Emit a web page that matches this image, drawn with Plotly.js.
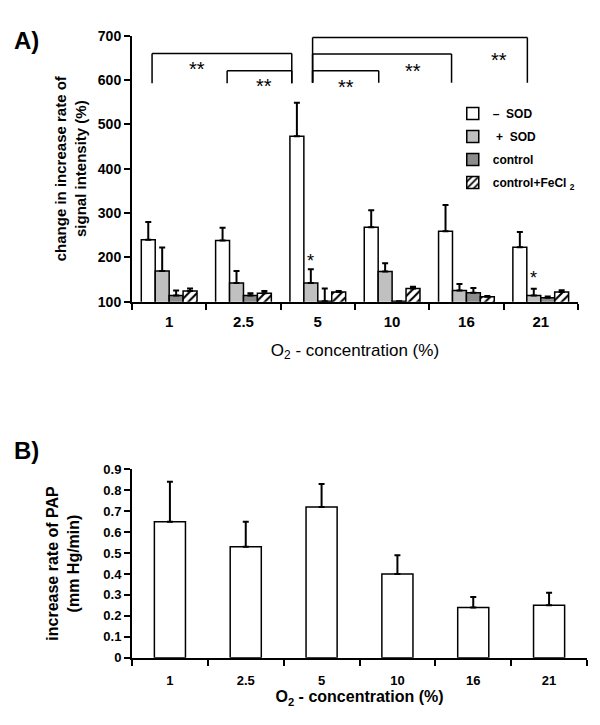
<!DOCTYPE html>
<html>
<head>
<meta charset="utf-8">
<script src="https://cdn.plot.ly/plotly-3.0.1.min.js"></script>
<style>html,body{margin:0;padding:0;background:#fff;} #chart{width:600px;height:725px;}</style>
</head>
<body>
<div id="chart"></div>
<script>
// ---------- data ----------
const categories = ['1', '2.5', '5', '10', '16', '21'];

// Panel A: change in increase rate of signal intensity (%)
const minusSOD     = [240, 238, 473, 268, 259, 223];
const minusSODErr  = [40, 29, 76, 38, 59, 34];
const plusSOD      = [169, 142, 142, 168, 125, 114];
const plusSODErr   = [53, 27, 31, 19, 15, 15];
const control      = [114, 114, 101, 101, 120, 109];
const controlErr   = [11, 5, 29, 0, 11, 3];
const controlFe    = [124, 119, 122, 130, 111, 122];
const controlFeErr = [6, 5, 2, 4, 2, 4];

// Panel B: increase rate of PAP (mm Hg/min)
const pap    = [0.65, 0.53, 0.72, 0.40, 0.24, 0.25];
const papErr = [0.19, 0.12, 0.11, 0.09, 0.05, 0.06];

// significance brackets (category index positions, y of bar top, y of leg end)
const brackets = [
  {from: -0.23, to: 1.65, top: 660, bottom: 593, label: '**', lx: 0.37, ly: 626},
  {from: 0.78,  to: 1.65, top: 621, bottom: 593, label: '**', lx: 1.28, ly: 586},
  {from: 1.93,  to: 4.82, top: 696, bottom: 594, label: '**', lx: 4.44, ly: 646},
  {from: 1.93,  to: 3.80, top: 659, bottom: 594, label: '**', lx: 3.28, ly: 620},
  {from: 1.93,  to: 2.82, top: 621, bottom: 594, label: '**', lx: 2.38, ly: 585}
];
// single-star marks (category index of the +SOD bar, y)
const stars = [{cat: 2, y: 192}, {cat: 5, y: 154}];

// ---------- helpers ----------
const FONT = 'Liberation Sans, Arial, sans-serif';
const zeros = categories.map(() => 0);
function errY(arr) {
  return {type: 'data', symmetric: false, array: arr, arrayminus: zeros,
          color: '#000', thickness: 2, width: 3};
}
const nCat = categories.length;
function dom(idx) { return (idx + 0.5) / nCat; }

const barLine = {color: '#000', width: 1.5};

const traces = [
  {type: 'bar', name: '–  SOD', x: categories, y: minusSOD, error_y: errY(minusSODErr),
   marker: {color: '#ffffff', line: barLine}, xaxis: 'x', yaxis: 'y', legendgroup: 'a'},
  {type: 'bar', name: ' +  SOD', x: categories, y: plusSOD, error_y: errY(plusSODErr),
   marker: {color: '#c0c0c0', line: barLine}, xaxis: 'x', yaxis: 'y', legendgroup: 'b'},
  {type: 'bar', name: 'control', x: categories, y: control, error_y: errY(controlErr),
   marker: {color: '#8c8c8c', line: barLine}, xaxis: 'x', yaxis: 'y', legendgroup: 'c'},
  {type: 'bar', name: 'control+FeCl <sub>2</sub>', x: categories, y: controlFe, error_y: errY(controlFeErr),
   marker: {color: '#ffffff', line: barLine,
            pattern: {shape: '/', fgcolor: '#000', bgcolor: '#ffffff', size: 6, solidity: 0.35}},
   xaxis: 'x', yaxis: 'y', legendgroup: 'd'},
  {type: 'bar', name: 'PAP', x: categories, y: pap, error_y: errY(papErr), width: 0.41,
   marker: {color: '#ffffff', line: barLine}, xaxis: 'x2', yaxis: 'y2', showlegend: false}
];

const shapes = [];
const annotations = [];
brackets.forEach(b => {
  const l = {color: '#000', width: 1.5};
  shapes.push({type: 'line', xref: 'x domain', yref: 'y', x0: dom(b.from), x1: dom(b.from), y0: b.bottom, y1: b.top, line: l});
  shapes.push({type: 'line', xref: 'x domain', yref: 'y', x0: dom(b.from), x1: dom(b.to), y0: b.top, y1: b.top, line: l});
  shapes.push({type: 'line', xref: 'x domain', yref: 'y', x0: dom(b.to), x1: dom(b.to), y0: b.top, y1: b.bottom, line: l});
  annotations.push({xref: 'x domain', yref: 'y', x: dom(b.lx), y: b.ly, xanchor: 'center', yanchor: 'middle',
                    text: b.label, showarrow: false, font: {family: FONT, size: 20, color: '#000000'}});
});
stars.forEach(s => {
  annotations.push({xref: 'x domain', yref: 'y', x: dom(s.cat - 0.094), y: s.y, xanchor: 'center', yanchor: 'middle',
                    text: '*', showarrow: false, font: {family: FONT, size: 18, color: '#000000'}});
});
annotations.push({xref: 'paper', yref: 'paper', x: (12 - 132) / 455, y: 1 - 40 / 725, xanchor: 'left', yanchor: 'middle',
                  text: '<b>A)</b>', showarrow: false, font: {family: FONT, size: 24, color: '#000'}});
annotations.push({xref: 'paper', yref: 'paper', x: (12 - 132) / 455, y: 1 - 450 / 725, xanchor: 'left', yanchor: 'middle',
                  text: '<b>B)</b>', showarrow: false, font: {family: FONT, size: 24, color: '#000'}});

const axCommon = {showline: true, linecolor: '#000', linewidth: 2, ticks: 'outside', ticklen: 6,
                  tickwidth: 2, tickcolor: '#000', showgrid: false, zeroline: false, fixedrange: true};

const layout = {
  width: 600, height: 725,
  margin: {l: 132, r: 13, t: 0, b: 0},
  paper_bgcolor: '#fff', plot_bgcolor: '#fff',
  barmode: 'group', bargap: 0.25, bargroupgap: 0,
  font: {family: FONT, color: '#000'},
  showlegend: true,
  legend: {x: 0.705, y: 1 - 99 / 725, xanchor: 'left', yanchor: 'top', bgcolor: 'rgba(0,0,0,0)',
           font: {family: FONT, size: 12, color: '#000', weight: 'bold'}, traceorder: 'grouped', tracegroupgap: 4},
  xaxis: Object.assign({}, axCommon, {type: 'category', domain: [0, 0.980], anchor: 'y', tickson: 'boundaries',
           range: [-0.5, 5.5], tickfont: {family: FONT, size: 15, weight: 'bold'}, ticklabelstandoff: 5,
           title: {text: 'O<sub>2</sub> - concentration (%)', standoff: 15, font: {family: FONT, size: 17}}}),
  yaxis: Object.assign({}, axCommon, {domain: [1 - 301.7 / 725, 1 - 35.7 / 725], anchor: 'x', range: [100, 700], dtick: 100,
           tickfont: {family: FONT, size: 14, weight: 'bold'},
           title: {text: 'change in increase rate of<br>signal intensity (%)', standoff: 8,
                   font: {family: FONT, size: 15, weight: 'bold'}}}),
  xaxis2: Object.assign({}, axCommon, {type: 'category', domain: [0, 1], anchor: 'y2', tickson: 'boundaries',
           range: [-0.5, 5.5], tickfont: {family: FONT, size: 13, weight: 'bold'}, ticklabelstandoff: 10,
           title: {text: 'O<sub>2</sub> - concentration (%)', standoff: 4, font: {family: FONT, size: 16, weight: 'bold'}}}),
  yaxis2: Object.assign({}, axCommon, {domain: [1 - 657.7 / 725, 1 - 469.3 / 725], anchor: 'x2', range: [0, 0.9], dtick: 0.1,
           tickfont: {family: FONT, size: 13, weight: 'bold'},
           title: {text: 'increase rate of PAP<br>(mm Hg/min)', standoff: 20,
                   font: {family: FONT, size: 16, weight: 'bold'}}}),
  shapes: shapes,
  annotations: annotations
};

Plotly.newPlot('chart', traces, layout, {displayModeBar: false, staticPlot: true});
</script>
</body>
</html>
